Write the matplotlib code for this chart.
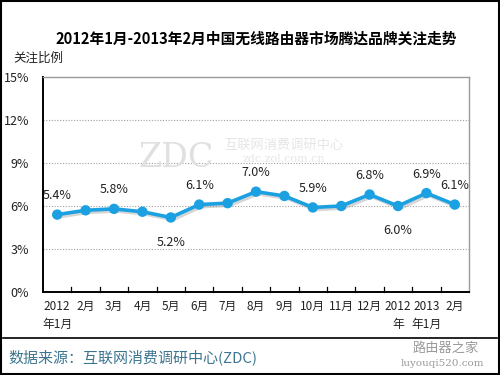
import matplotlib
matplotlib.use("Agg")
import matplotlib.pyplot as plt
import matplotlib.patheffects as pe
from matplotlib.patches import Rectangle
from matplotlib.lines import Line2D

plt.rcParams['font.family'] = ['Noto Sans CJK SC', 'DejaVu Sans']

categories = ["2012\n年1月", "2月", "3月", "4月", "5月", "6月", "7月", "8月", "9月",
              "10月", "11月", "12月", "2012\n年", "2013\n年1月", "2月"]
values = [5.4, 5.7, 5.8, 5.6, 5.2, 6.1, 6.2, 7.0, 6.7, 5.9, 6.0, 6.8, 6.0, 6.9, 6.1]
labels = ["5.4%", None, "5.8%", None, "5.2%", "6.1%", None, "7.0%", None,
          "5.9%", None, "6.8%", "6.0%", "6.9%", "6.1%"]
label_below = [False, False, False, False, True, False, False, False, False,
               False, False, False, True, False, False]
yticks = [0, 3, 6, 9, 12, 15]
ytick_labels = ["0%", "3%", "6%", "9%", "12%", "15%"]

title = "2012年1月-2013年2月中国无线路由器市场腾达品牌关注走势"
ylabel = "关注比例"
source = "数据来源：互联网消费调研中心(ZDC)"

fig = plt.figure(figsize=(5, 3.75), dpi=100)
fig.patch.set_facecolor("white")

ax = fig.add_axes([0.086, 0.2213, 0.852, 0.5734])
x = list(range(len(values)))
ax.plot(x, values, color="#1ba1e2", lw=2.6, marker="o", ms=7.5,
        markeredgewidth=0, zorder=5,
        path_effects=[pe.SimpleLineShadow(offset=(1.5, -1.5), shadow_color="#888888", alpha=0.35),
                      pe.Normal()])
ax.set_xlim(-0.5, len(values) - 0.5)
ax.set_ylim(0, 15)
ax.set_yticks(yticks)
ax.set_yticklabels(ytick_labels, fontsize=9, color="#222222")
ax.set_xticks(x)
ax.set_xticklabels(categories, fontsize=8.5, color="#222222", linespacing=1.5, va="top")
ax.tick_params(axis="x", length=0, pad=6)
ax.tick_params(axis="y", length=0, pad=10)

# boundary ticks pointing up from bottom
for b in [i + 0.5 for i in range(len(values) - 1)]:
    ax.plot([b, b], [0, 0.35], color="black", lw=0.9, clip_on=False, zorder=3)

for g in [3, 6, 9, 12]:
    ax.axhline(g, color="#a0a0a0", lw=0.8, ls=(0, (1, 1.5)), zorder=1)

for s in ["top", "right"]:
    ax.spines[s].set_color("#9a9a9a")
    ax.spines[s].set_linewidth(1.0)
ax.spines["left"].set_color("black")
ax.spines["left"].set_linewidth(1.4)
ax.spines["bottom"].set_color("black")
ax.spines["bottom"].set_linewidth(1.4)

for xi, v, lab, below in zip(x, values, labels, label_below):
    if lab is None:
        continue
    if below:
        ax.annotate(lab, (xi, v), xytext=(0, -13), textcoords="offset points",
                    ha="center", va="top", fontsize=9, color="#222222", zorder=6)
    else:
        ax.annotate(lab, (xi, v), xytext=(0, 9), textcoords="offset points",
                    ha="center", va="bottom", fontsize=9, color="#222222", zorder=6)

# faint watermark in plot
fig.text(0.352, 0.578, "ZDC", fontsize=24, color="#e0e0e0", ha="center", va="center",
         family="DejaVu Serif", zorder=0)
fig.text(0.567, 0.612, "互联网消费调研中心", fontsize=9.5, color="#e6e6e6", ha="center", va="center", zorder=0)
fig.text(0.567, 0.577, "zdc.zol.com.cn", fontsize=8, color="#e6e6e6", ha="center", va="center",
         family="DejaVu Serif", zorder=0)

fig.text(0.512, 0.897, title, fontsize=10.6, fontweight="bold", ha="center", va="center", color="black")
fig.text(0.026, 0.845, ylabel, fontsize=9, ha="left", va="center", color="#222222")

# bottom separator and source
fig.add_artist(Line2D([0.006, 0.994], [0.099, 0.099], color="black", lw=1.2))
fig.text(0.016, 0.048, source, fontsize=10.8, ha="left", va="center", color="#3d7590")
fig.text(0.892, 0.072, "路由器之家", fontsize=9.5, ha="center", va="center", color="#9a9a9a")
fig.text(0.885, 0.030, "luyouqi520.com", fontsize=7.5, ha="center", va="center", color="#9a9a9a",
         family="DejaVu Serif")

# outer border
fig.add_artist(Rectangle((0.002, 0.003), 0.996, 0.994, fill=False, edgecolor="black", lw=1.5,
                         transform=fig.transFigure))

fig.savefig("out.png", dpi=100)
